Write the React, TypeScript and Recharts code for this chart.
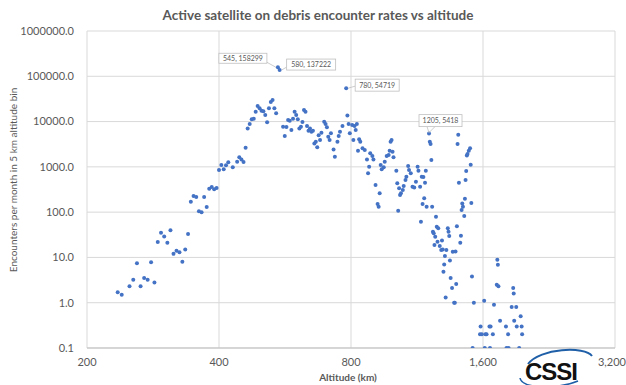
import { ScatterChart, Scatter, XAxis, YAxis, CartesianGrid, ReferenceDot } from "recharts";

// altitude bins (km) and encounters per month
const ALTITUDE_KM = [
  235, 240, 250, 255, 260, 265, 270, 275, 280, 285, 290, 295, 300, 305, 310, 315, 320, 325, 330, 335,
  340, 345, 350, 355, 360, 365, 370, 375, 380, 385, 390, 395, 400, 405, 410, 415, 420, 430, 440, 445,
  450, 455, 460, 465, 470, 475, 480, 485, 490, 495, 500, 505, 510, 515, 520, 525, 530, 535, 540, 545,
  550, 560, 565, 570, 575, 580, 585, 590, 595, 600, 605, 610, 615, 620, 625, 630, 635, 640, 645, 650,
  655, 660, 665, 670, 675, 680, 685, 695, 700, 705, 710, 715, 720, 730, 735, 745, 750, 755, 765, 780,
  785, 790, 795, 805, 810, 815, 820, 825, 830, 835, 840, 850, 860, 870, 875, 880, 885, 895, 900, 910,
  920, 925, 930, 935, 940, 950, 955, 965, 975, 980, 985, 990, 995, 1000, 1015, 1020, 1025, 1030, 1035, 1040,
  1050, 1055, 1065, 1070, 1080, 1085, 1095, 1105, 1115, 1125, 1135, 1140, 1150, 1155, 1160, 1165, 1170, 1175, 1180, 1185,
  1190, 1205, 1210, 1215, 1220, 1225, 1230, 1235, 1240, 1245, 1250, 1255, 1260, 1265, 1275, 1285, 1290, 1295, 1300, 1305,
  1310, 1315, 1320, 1330, 1335, 1340, 1345, 1350, 1360, 1365, 1375, 1380, 1385, 1390, 1395, 1400, 1405, 1410, 1420, 1425,
  1430, 1435, 1440, 1450, 1455, 1460, 1465, 1470, 1475, 1485, 1495, 1500, 1505, 1510, 1515, 1525, 1575, 1580, 1590, 1610,
  1615, 1620, 1630, 1655, 1660, 1665, 1685, 1695, 1720, 1725, 1730, 1735, 1750, 1805, 1810, 1825, 1830, 1860, 1875, 1880,
  1885, 1905, 1910, 1935, 1950, 1960, 1965,
];

const ENCOUNTERS = [
  1.7, 1.5, 2.3, 3.2, 7.4, 2.3, 3.5, 3.2, 7.8, 2.8, 22, 35, 29, 21, 40, 12, 14, 13, 8.0, 15,
  33, 170, 227, 215, 104, 100, 215, 130, 328, 358, 319, 340, 850, 1100, 880, 1080, 1260, 980, 1300, 1620,
  1460, 1280, 2640, 7070, 8800, 11200, 11500, 16500, 22000, 19600, 17300, 17000, 13900, 9600, 19600, 27000, 29800, 19600, 15200, 158299,
  137222, 7700, 4800, 7600, 10800, 10400, 6500, 11500, 16500, 13900, 11200, 7070, 7700, 9800, 17900, 16500, 7950, 6270, 7070, 5950,
  6300, 3300, 3580, 2700, 5000, 3900, 5660, 9900, 8800, 7450, 4600, 3900, 5500, 2430, 1670, 3600, 4800, 5950, 7950, 54719,
  13700, 8800, 5500, 8350, 3900, 7950, 6500, 8800, 2270, 4050, 3580, 2560, 2350, 1460, 720, 1000, 1990, 1730, 1450, 397,
  151, 132, 260, 1100, 880, 977, 1300, 1730, 1820, 2270, 3580, 3900, 2150, 1620, 820, 432, 107, 335, 238, 260,
  308, 377, 511, 605, 1040, 850, 720, 364, 350, 469, 1000, 820, 364, 61, 605, 151, 600, 202, 446, 820,
  132, 5418, 3580, 3190, 1410, 132, 36.9, 34, 18.8, 28.6, 79, 47.6, 22.2, 43.9, 17.8, 14.6, 23.8, 15, 4.8, 7.0,
  10.7, 1.3, 14.5, 43.9, 37, 29.7, 8.5, 3.5, 2.1, 13.4, 1.0, 1.0, 13.5, 2.6, 49, 3200, 5100, 446, 21, 30,
  111, 156, 132, 82, 198, 511, 810, 1790, 1920, 2270, 2560, 1110, 159, 3.8, 0.1, 1.0, 0.2, 0.3, 0.2, 1.1,
  0.1, 0.2, 0.2, 0.3, 0.1, 0.3, 0.2, 0.9, 2.5, 8.9, 6.9, 2.3, 0.4, 0.3, 0.1, 0.2, 0.1, 0.8, 2.1, 1.6,
  0.4, 0.8, 0.3, 0.1, 0.5, 0.3, 0.2,
];

const X_TICKS = [200, 400, 800, 1600, 3200];
const Y_TICKS = [0.1, 1, 10, 100, 1000, 10000, 100000, 1000000];

// annotated points
const CALLOUT_ALT = [545, 550, 780, 1205];
const CALLOUT_VAL = [158299, 137222, 54719, 5418];
const CALLOUT_TEXT = ["545, 158299", "580, 137222", "780, 54719", "1205, 5418"];

// box position relative to the dot, plus leader line
const CALLOUT_LAYOUT = [
  { bx: -59, by: -14, bw: 48, bh: 10, leader: "M-11,-5 L-2,0" },
  { bx: 7, by: -11, bw: 49, bh: 11, leader: "M7,-3 L2,0" },
  { bx: 9, by: -9, bw: 44, bh: 12, leader: "M9,-2 L2,0" },
  { bx: -10, by: -19, bw: 43, bh: 12, leader: "M-2,-7 L0,-1 L6,-7" },
];

const FONT = "Lato, 'Open Sans', sans-serif";
const GREY = "#595959";

const data = ALTITUDE_KM.map((a, i) => ({ altitude: a, encounters: ENCOUNTERS[i] }));

function Callout(props: any) {
  const { cx, cy, idx } = props;
  const l = CALLOUT_LAYOUT[idx];
  return (
    <g transform={`translate(${cx},${cy})`}>
      <path d={l.leader} stroke="#bfbfbf" strokeWidth={0.8} fill="none" />
      <rect x={l.bx} y={l.by} width={l.bw} height={l.bh} fill="#fff" stroke="#bfbfbf" strokeWidth={0.8} />
      <text
        x={l.bx + l.bw / 2}
        y={l.by + l.bh / 2 + 2.5}
        textAnchor="middle"
        fontSize={7}
        fill={GREY}
        fontFamily={FONT}
      >
        {CALLOUT_TEXT[idx]}
      </text>
    </g>
  );
}

// x tick: keep the last label inside the picture
function XTick(props: any) {
  const { x, y, payload } = props;
  const label = Number(payload.value).toLocaleString("en-US");
  const last = payload.value === X_TICKS[X_TICKS.length - 1];
  return (
    <text
      x={last ? 626 : x}
      y={y}
      dy="0.71em"
      textAnchor={last ? "end" : "middle"}
      fontSize={11}
      fill={GREY}
      fontFamily={FONT}
    >
      {label}
    </text>
  );
}

export default function App() {
  return (
    <div style={{ position: "absolute", left: 0, top: 0, width: 626, height: 385, background: "#fff" }}>
      <ScatterChart width={626} height={385} margin={{ top: 31, right: 11, bottom: 7, left: 0 }}>
        <CartesianGrid stroke="#d9d9d9" strokeWidth={1} />
        <XAxis
          type="number"
          dataKey="altitude"
          scale="log"
          domain={[200, 3200]}
          ticks={X_TICKS}
          allowDataOverflow
          height={30}
          tickLine={false}
          axisLine={{ stroke: "#bfbfbf" }}
          tickMargin={4}
          tick={<XTick />}
        />
        <YAxis
          type="number"
          dataKey="encounters"
          scale="log"
          domain={[0.1, 1000000]}
          ticks={Y_TICKS}
          allowDataOverflow
          width={87}
          tickLine={false}
          axisLine={false}
          tickMargin={7}
          tick={{ fontSize: 11, fill: GREY, fontFamily: FONT }}
          tickFormatter={(v: number) => v.toFixed(1)}
        />
        <Scatter
          data={data}
          fill="#4472C4"
          isAnimationActive={false}
          shape={(p: any) => <circle cx={p.cx} cy={p.cy} r={2} fill="#4472C4" />}
        />
        {CALLOUT_ALT.map((a, i) => (
          <ReferenceDot
            key={i}
            x={a}
            y={CALLOUT_VAL[i]}
            r={0}
            ifOverflow="visible"
            shape={(p: any) => <Callout {...p} idx={i} />}
          />
        ))}
      </ScatterChart>

      <svg
        width={626}
        height={385}
        style={{ position: "absolute", left: 0, top: 0, pointerEvents: "none" }}
      >
        <text x={318} y={20} textAnchor="middle" fontSize={13.5} fontWeight="bold" fill={GREY} fontFamily={FONT}>
          Active satellite on debris encounter rates vs altitude
        </text>
        <text
          transform="translate(17,180) rotate(-90)"
          textAnchor="middle"
          fontSize={10}
          fill={GREY}
          fontFamily={FONT}
        >
          Encounters per month in 5 km altitude bin
        </text>
        <text x={348} y={381} textAnchor="middle" fontSize={10} fontWeight="bold" fill={GREY} fontFamily={FONT}>
          Altitude (km)
        </text>
        {/* CSSI logo */}
        <path d="M528,364 C540,348 585,346 592,356" stroke="#1f5fa8" strokeWidth={2} fill="none" />
        <path d="M520,378 C522,390 562,388 578,381" stroke="#1f5fa8" strokeWidth={1.5} fill="none" />
        <text x={551} y={380} textAnchor="middle" fontSize={24} fontWeight="bold" fill="#111" fontFamily="'Liberation Sans', Arial, sans-serif" letterSpacing={-1}>
          CSSI
        </text>
      </svg>
    </div>
  );
}
